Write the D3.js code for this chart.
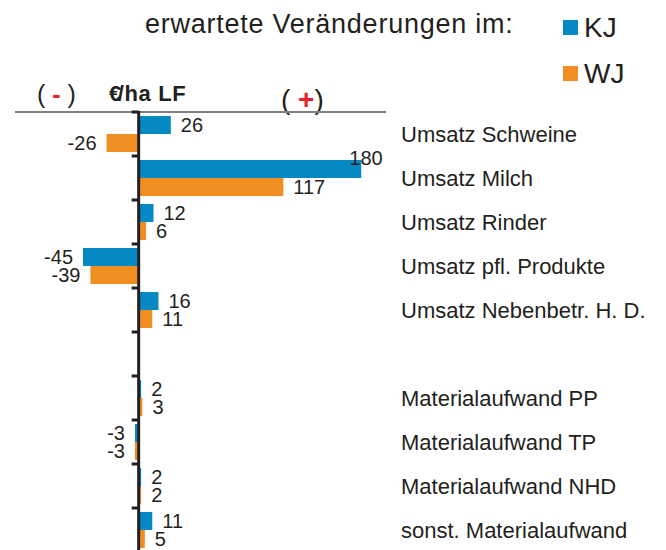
<!DOCTYPE html>
<html>
<head>
<meta charset="utf-8">
<script src="https://cdn.jsdelivr.net/npm/d3@7"></script>
<style>
  body { margin: 0; background: #fff; }
  text { font-family: "Liberation Sans", Arial, sans-serif; fill: #231f20; }
</style>
</head>
<body>
<div id="chart"></div>
<script>
// categories (the empty one is the gap row)
const categories = [
  "Umsatz Schweine",
  "Umsatz Milch",
  "Umsatz Rinder",
  "Umsatz pfl. Produkte",
  "Umsatz Nebenbetr. H. D.",
  "",
  "Materialaufwand PP",
  "Materialaufwand TP",
  "Materialaufwand NHD",
  "sonst. Materialaufwand"
];
const kj = [26, 180, 12, -45, 16, null, 2, -3, 2, 11];
const wj = [-26, 117, 6, -39, 11, null, 3, -3, 2, 5];
const series = ["KJ", "WJ"];
const colors = { KJ: "#0589c4", WJ: "#f08e22" };

const W = 666, H = 550;

const svg = d3.select("#chart")
  .append("svg")
  .attr("width", W)
  .attr("height", H);

// scales
const x = d3.scaleLinear().domain([-100, 200]).range([15, 386]);
const keys = categories.map((c, i) => "c" + i);
const y = d3.scaleBand().domain(keys).range([112, 552]).padding(0);
const y1 = d3.scaleBand().domain(series)
  .range([0, y.bandwidth()])
  .paddingInner(0)
  .paddingOuter(0.222);

const rows = categories.map((c, i) => ({ key: keys[i], name: c, KJ: kj[i], WJ: wj[i] }));

// title
svg.append("text")
  .attr("x", 145)
  .attr("y", 33)
  .style("font-size", "27px")
  .style("letter-spacing", "0.75px")
  .text("erwartete Veränderungen im:");

// legend
const legend = svg.append("g");
series.forEach((s, i) => {
  legend.append("rect")
    .attr("x", 563).attr("y", 20 + i * 46)
    .attr("width", 15).attr("height", 15)
    .attr("fill", colors[s]);
  legend.append("text")
    .attr("x", 584).attr("y", 37 + i * 46)
    .style("font-size", "28px")
    .text(s);
});

// ( - )  €/ha LF  ( + )
const minus = svg.append("text")
  .attr("x", 37).attr("y", 103)
  .style("font-size", "25px");
minus.append("tspan").text("( ");
minus.append("tspan").style("fill", "#e8212a").style("font-weight", "bold").text("-");
minus.append("tspan").text(" )");

const unit = svg.append("text")
  .attr("x", 109).attr("y", 101)
  .style("font-size", "22px")
  .style("font-weight", "bold")
  .style("letter-spacing", "0.6px");
unit.append("tspan").text("€");
unit.append("tspan").attr("dx", -4).text("/ha LF");

const plus = svg.append("text")
  .attr("x", 281).attr("y", 109)
  .style("font-size", "28px");
plus.append("tspan").text("( ");
plus.append("tspan").style("fill", "#e8212a").style("font-weight", "bold").text("+");
plus.append("tspan").text(")");

// gray top line
svg.append("line")
  .attr("x1", x(-100)).attr("x2", x(200))
  .attr("y1", y.range()[0]).attr("y2", y.range()[0])
  .attr("stroke", "#808080")
  .attr("stroke-width", 2);

// bars
const groups = svg.selectAll("g.row")
  .data(rows)
  .join("g")
  .attr("class", "row")
  .attr("transform", d => `translate(0,${y(d.key)})`);

const bars = groups.selectAll("g.bar")
  .data(d => series.filter(s => d[s] !== null).map(s => ({ s, v: d[s] })))
  .join("g")
  .attr("class", "bar");

bars.append("rect")
  .attr("x", d => x(Math.min(0, d.v)))
  .attr("y", d => y1(d.s))
  .attr("width", d => Math.abs(x(d.v) - x(0)))
  .attr("height", y1.bandwidth())
  .attr("fill", d => colors[d.s]);

// value labels
bars.append("text")
  .style("font-size", "20px")
  .attr("text-anchor", d => d.v < 0 ? "end" : "start")
  .attr("x", d => {
    if (d.v < 0) return x(d.v) - 10;
    return x(d.v) + 10 > 340 ? x(d.v) - 12 : x(d.v) + 10;
  })
  .attr("y", d => {
    const mid = y1(d.s) + y1.bandwidth() / 2 + 7;
    return x(d.v) + 10 > 340 ? mid - 11 : mid;
  })
  .text(d => d.v);

// category labels
svg.selectAll("text.cat")
  .data(rows)
  .join("text")
  .attr("class", "cat")
  .attr("x", 401)
  .attr("y", d => y(d.key) + y.bandwidth() / 2 + 8)
  .style("font-size", "22px")
  .text(d => d.name);

// vertical axis with left ticks at band edges
const axis = svg.append("g");
axis.selectAll("line.tick")
  .data(keys)
  .join("line")
  .attr("class", "tick")
  .attr("x1", x(0) - 7).attr("x2", x(0))
  .attr("y1", d => y(d)).attr("y2", d => y(d))
  .attr("stroke", "#231f20")
  .attr("stroke-width", 3);
axis.append("line")
  .attr("x1", x(0)).attr("x2", x(0))
  .attr("y1", y.range()[0] - 1).attr("y2", y.range()[1])
  .attr("stroke", "#231f20")
  .attr("stroke-width", 3);
</script>
</body>
</html>
